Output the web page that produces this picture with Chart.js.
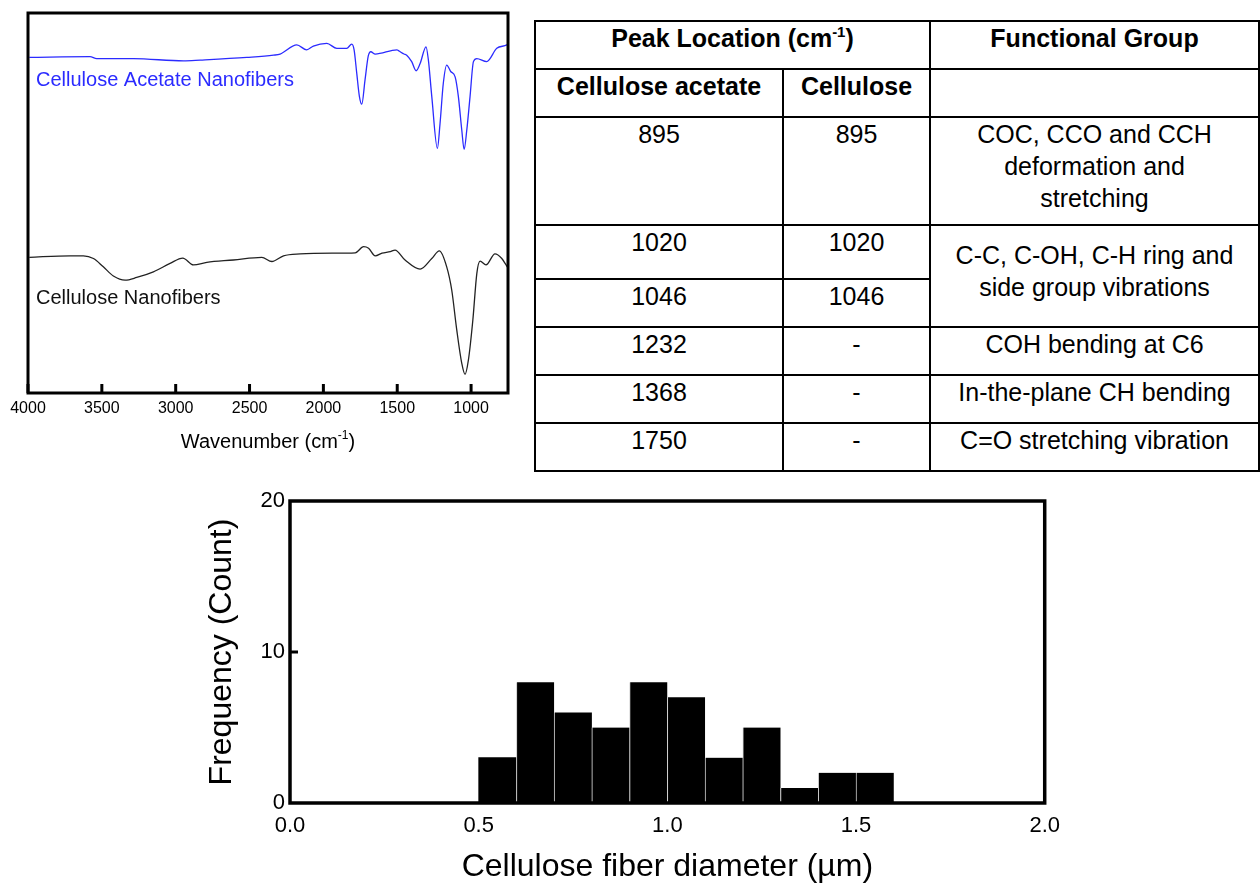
<!DOCTYPE html>
<html>
<head>
<meta charset="utf-8">
<script src="https://cdn.jsdelivr.net/npm/chart.js@4.4.1/dist/chart.umd.min.js"></script>
<style>
  body { margin: 0; background: #fff; width: 1260px; height: 884px; position: relative; overflow: hidden;
         font-family: Arial, "Liberation Sans", sans-serif; }
  #ftirBox { position: absolute; left: 0; top: 0; width: 520px; height: 470px; }
  #histBox { position: absolute; left: 190px; top: 480px; width: 880px; height: 404px; }
  table { position: absolute; left: 534px; top: 20px; width: 724px; border-collapse: collapse; table-layout: fixed;
          font-size: 25px; color: #000; }
  td, th { border: 2px solid #000; text-align: center; vertical-align: top; padding: 0; line-height: 32px; }
  th { font-weight: bold; }
  sup { font-size: 15px; vertical-align: 10px; line-height: 0; }
</style>
</head>
<body>
<div id="ftirBox"><canvas id="ftirChart"></canvas></div>

<table>
  <colgroup><col style="width:248px"><col style="width:147px"><col style="width:329px"></colgroup>
  <tr style="height:48px"><th colspan="2">Peak Location (cm<sup>-1</sup>)</th><th>Functional Group</th></tr>
  <tr style="height:48px"><th>Cellulose acetate</th><th>Cellulose</th><td></td></tr>
  <tr style="height:108px"><td>895</td><td>895</td><td>COC, CCO and CCH<br>deformation and<br>stretching</td></tr>
  <tr style="height:54px"><td>1020</td><td>1020</td><td rowspan="2" style="padding-top:13px">C-C, C-OH, C-H ring and<br>side group vibrations</td></tr>
  <tr style="height:48px"><td>1046</td><td>1046</td></tr>
  <tr style="height:48px"><td>1232</td><td>-</td><td>COH bending at C6</td></tr>
  <tr style="height:48px"><td>1368</td><td>-</td><td>In-the-plane CH bending</td></tr>
  <tr style="height:48px"><td>1750</td><td>-</td><td>C=O stretching vibration</td></tr>
</table>

<div id="histBox"><canvas id="histChart"></canvas></div>

<script>
// FTIR spectra (arbitrary transmittance units, offset for display)
const caWavenumber = [3991, 3580, 3535, 3286, 2947, 2834, 2518, 2337, 2293, 2180,
  2113, 2068, 1977, 1909, 1842, 1808, 1792, 1774, 1756, 1740,
  1718, 1696, 1679, 1649, 1502, 1492, 1454, 1436, 1402, 1372,
  1345, 1305, 1289, 1266, 1228, 1210, 1188, 1165, 1138, 1108,
  1086, 1063, 1047, 1029, 1007, 984, 961, 894, 826, 758, 752];
const caSignal = [88.3, 88.5, 88.0, 88.0, 87.4, 87.6, 88.3, 88.9, 89.2, 91.6,
  90.3, 91.3, 92.0, 90.7, 90.7, 91.8, 90.3, 84.1, 78.0, 76.0,
  82.4, 88.7, 89.8, 89.2, 90.3, 90.1, 89.2, 88.9, 87.2, 84.8,
  86.7, 91.1, 87.6, 78.0, 64.4, 71.0, 81.5, 86.3, 84.6, 83.2,
  78.0, 69.2, 64.1, 69.2, 78.0, 87.2, 88.0, 87.2, 90.7, 91.6, 91.8];

const cnWavenumber = [3991, 3715, 3625, 3557, 3490, 3422, 3343, 3264, 3151, 3038,
  2952, 2880, 2789, 2609, 2417, 2349, 2270, 2157, 1931, 1784,
  1728, 1694, 1649, 1603, 1547, 1515, 1447, 1345, 1266, 1215,
  1165, 1131, 1097, 1063, 1041, 1018, 988, 961, 939, 899,
  838, 792, 763, 752];
const cnSignal = [35.7, 36.1, 36.1, 35.4, 33.2, 30.8, 29.7, 30.4, 31.9, 34.1,
  35.5, 33.7, 34.4, 35.0, 35.7, 34.6, 36.1, 36.6, 36.8, 36.9,
  38.5, 38.1, 36.1, 36.8, 37.2, 37.6, 35.0, 32.6, 35.4, 37.4,
  33.2, 27.1, 16.6, 7.8, 4.9, 8.7, 19.2, 31.5, 34.7, 33.7,
  36.6, 35.4, 33.7, 33.0];

const ftirTicks = [4000, 3500, 3000, 2500, 2000, 1500, 1000];

// fiber diameter histogram
const binStart = [0.5, 0.6, 0.7, 0.8, 0.9, 1.0, 1.1, 1.2, 1.3, 1.4, 1.5];
const binCount = [3, 8, 6, 5, 8, 7, 3, 5, 1, 2, 2];
const binWidth = 0.1;
const diameterTicks = [0, 0.5, 1.0, 1.5, 2.0];
const countTicks = [0, 10, 20];

const FONT = 'Arial, "Liberation Sans", sans-serif';
Chart.defaults.font.family = FONT;
Chart.defaults.color = '#000';

function pairs(xs, ys) {
  return xs.map((x, i) => ({ x: x, y: ys[i] }));
}

// frame, inward ticks, curve labels and axis title with superscript
const ftirDecor = {
  id: 'ftirDecor',
  afterDraw(chart) {
    const { ctx, chartArea: a, scales: { x } } = chart;
    ctx.save();
    ctx.strokeStyle = '#000';
    ctx.lineWidth = 3;
    ctx.strokeRect(a.left, a.top, a.right - a.left, a.bottom - a.top);
    ctx.lineWidth = 3;
    ftirTicks.forEach(v => {
      const px = x.getPixelForValue(v);
      ctx.beginPath();
      ctx.moveTo(px, a.bottom);
      ctx.lineTo(px, a.bottom - 9);
      ctx.stroke();
    });

    ctx.font = '20px ' + FONT;
    ctx.textBaseline = 'alphabetic';
    ctx.textAlign = 'left';
    ctx.fillStyle = '#2b2bff';
    ctx.fillText('Cellulose Acetate Nanofibers', a.left + 8, a.top + 73);
    ctx.fillStyle = '#111';
    ctx.fillText('Cellulose Nanofibers', a.left + 8, a.top + 291);

    const main = '20px ' + FONT, small = '12px ' + FONT;
    ctx.font = main;
    const w1 = ctx.measureText('Wavenumber (cm').width;
    const w3 = ctx.measureText(')').width;
    ctx.font = small;
    const w2 = ctx.measureText('-1').width;
    let tx = (a.left + a.right) / 2 - (w1 + w2 + w3) / 2;
    const base = a.bottom + 55;
    ctx.fillStyle = '#000';
    ctx.font = main;
    ctx.fillText('Wavenumber (cm', tx, base);
    tx += w1;
    ctx.font = small;
    ctx.fillText('-1', tx, base - 9);
    tx += w2;
    ctx.font = main;
    ctx.fillText(')', tx, base);
    ctx.restore();
  }
};

new Chart(document.getElementById('ftirChart'), {
  type: 'line',
  data: {
    datasets: [
      { label: 'Cellulose Acetate Nanofibers', data: pairs(caWavenumber, caSignal),
        borderColor: '#2b2bff', borderWidth: 1.3 },
      { label: 'Cellulose Nanofibers', data: pairs(cnWavenumber, cnSignal),
        borderColor: '#222', borderWidth: 1.3 }
    ]
  },
  options: {
    responsive: true,
    maintainAspectRatio: false,
    animation: false,
    layout: { padding: { left: 28, right: 12, top: 13, bottom: 0 } },
    elements: { point: { radius: 0 }, line: { cubicInterpolationMode: 'monotone' } },
    plugins: { legend: { display: false }, tooltip: { enabled: false } },
    scales: {
      x: {
        type: 'linear', reverse: true, min: 750, max: 4000,
        afterBuildTicks: s => { s.ticks = ftirTicks.map(v => ({ value: v })); },
        afterFit: s => { s.height = 77; },
        grid: { display: false, drawTicks: false },
        border: { display: false },
        ticks: { font: { size: 16 }, padding: 6, maxRotation: 0, color: '#000',
                 callback: v => String(v) }
      },
      y: { display: false, min: 0, max: 100 }
    }
  },
  plugins: [ftirDecor]
});

// frame and the single inward tick at 10
const histDecor = {
  id: 'histDecor',
  afterDraw(chart) {
    const { ctx, chartArea: a, scales: { y } } = chart;
    ctx.save();
    ctx.strokeStyle = '#000';
    ctx.lineWidth = 3.5;
    ctx.strokeRect(a.left, a.top, a.right - a.left, a.bottom - a.top);
    ctx.lineWidth = 3;
    const py = y.getPixelForValue(10);
    ctx.beginPath();
    ctx.moveTo(a.left, py);
    ctx.lineTo(a.left + 8, py);
    ctx.stroke();
    ctx.restore();
  }
};

new Chart(document.getElementById('histChart'), {
  type: 'bar',
  data: {
    datasets: [{
      data: binStart.map((b, i) => ({ x: b + binWidth / 2, y: binCount[i] })),
      backgroundColor: '#000',
      borderColor: '#cfcfcf',
      borderWidth: c => c.dataIndex === 0 ? 0 : { left: 1, right: 0, top: 0, bottom: 0 },
      barPercentage: 1.0,
      categoryPercentage: 1.0
    }]
  },
  options: {
    responsive: true,
    maintainAspectRatio: false,
    animation: false,
    layout: { padding: { left: 0, right: 21, top: 21, bottom: 0 } },
    plugins: { legend: { display: false }, tooltip: { enabled: false } },
    scales: {
      x: {
        type: 'linear', min: 0, max: 2, offset: false,
        afterBuildTicks: s => { s.ticks = diameterTicks.map(v => ({ value: v })); },
        afterFit: s => { s.height = 81; },
        grid: { display: false, drawTicks: false, offset: false },
        border: { display: false },
        ticks: { font: { size: 22 }, padding: 10, maxRotation: 0, color: '#000',
                 callback: v => Number(v).toFixed(1) },
        title: { display: true, text: 'Cellulose fiber diameter (µm)', color: '#000',
                 font: { size: 32, lineHeight: 1 }, padding: { top: 0, bottom: 1 } }
      },
      y: {
        min: 0, max: 20,
        afterBuildTicks: s => { s.ticks = countTicks.map(v => ({ value: v })); },
        afterFit: s => { s.width = 100; },
        grid: { display: false, drawTicks: false },
        border: { display: false },
        ticks: { font: { size: 22 }, padding: 5, color: '#000' },
        title: { display: true, text: 'Frequency (Count)', color: '#000',
                 font: { size: 32, lineHeight: 1 }, padding: { top: 16, bottom: 0 } }
      }
    }
  },
  plugins: [histDecor]
});
</script>
</body>
</html>
